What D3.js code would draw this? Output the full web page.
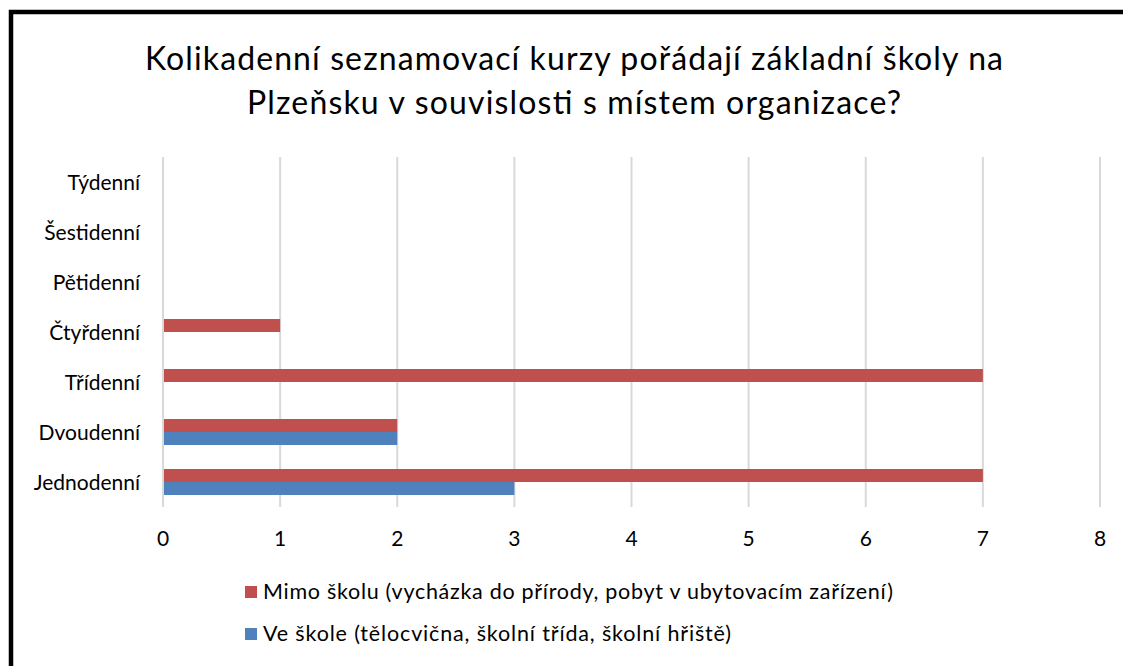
<!DOCTYPE html>
<html><head><meta charset="utf-8">
<script src="https://cdn.jsdelivr.net/npm/d3@7"></script>
<style>body{margin:0;background:#fff}svg{display:block}text{font-family:Lato,"Open Sans",sans-serif;fill:#000}</style>
</head><body><svg id="c" width="1123" height="666"></svg>
<script>
const categories = ["Jednodenní","Dvoudenní","Třídenní","Čtyřdenní","Pětidenní","Šestidenní","Týdenní"];
const seriesNames = ["Mimo školu (vycházka do přírody, pobyt v ubytovacím zařízení)","Ve škole (tělocvična, školní třída, školní hřiště)"];
const mimoValues = [7,2,7,1,0,0,0];
const veSkoleValues = [3,2,0,0,0,0,0];
const xTicks = [0,1,2,3,4,5,6,7,8];
const titleLines = ["Kolikadenní seznamovací kurzy pořádají základní školy na","Plzeňsku v souvislosti s místem organizace?"];
const colors = ["#C0504D","#4F81BD"];

const svg = d3.select("#c");
svg.append("rect").attr("x",11).attr("y",12).attr("width",1130).attr("height",680)
  .attr("fill","#fff").attr("stroke","#000").attr("stroke-width",4.5);

const x = d3.scaleLinear().domain([0,8]).range([163,1100]);
const y = d3.scaleBand().domain(categories.slice().reverse()).range([157,507]);
const inner = d3.scaleBand().domain([0,1]).range([y.bandwidth()/2-13, y.bandwidth()/2+13]);

svg.append("g").selectAll("line").data(xTicks).join("line")
  .attr("x1",d=>x(d)).attr("x2",d=>x(d)).attr("y1",157).attr("y2",507)
  .attr("stroke","#D9D9D9").attr("stroke-width",2);

const series = [mimoValues, veSkoleValues];
series.forEach((vals,si)=>{
  svg.append("g").selectAll("rect").data(categories.map((c,i)=>({c,v:vals[i]})).filter(d=>d.v>0)).join("rect")
    .attr("x",x(0)+1).attr("y",d=>y(d.c)+inner(si))
    .attr("width",d=>x(d.v)-x(0)-1).attr("height",inner.bandwidth())
    .attr("fill",colors[si]);
});

const fs = 21;
svg.append("g").selectAll("text").data(xTicks).join("text")
  .attr("x",d=>x(d)).attr("y",546).attr("text-anchor","middle").attr("font-size",fs).text(d=>d);

svg.append("g").selectAll("text").data(categories).join("text")
  .attr("x",140).attr("y",d=>y(d)+y.bandwidth()/2+7.5).attr("text-anchor","end").attr("font-size",fs).text(d=>d);

const titleWidths = [858, 654];
svg.append("g").selectAll("text").data(titleLines).join("text")
  .attr("x",574).attr("y",(d,i)=>70+i*44).attr("text-anchor","middle").attr("font-size",32)
  .attr("textLength",(d,i)=>titleWidths[i]).attr("lengthAdjust","spacing").text(d=>d);

const legendWidths = [630, 468];
const lg = svg.append("g").selectAll("g").data(seriesNames).join("g")
  .attr("transform",(d,i)=>`translate(245,${586+i*42})`);
lg.append("rect").attr("width",12).attr("height",12).attr("fill",(d,i)=>colors[i]);
lg.append("text").attr("x",18).attr("y",13).attr("font-size",21.5)
  .attr("textLength",(d,i)=>legendWidths[i]).attr("lengthAdjust","spacing").text(d=>d);
</script></body></html>
